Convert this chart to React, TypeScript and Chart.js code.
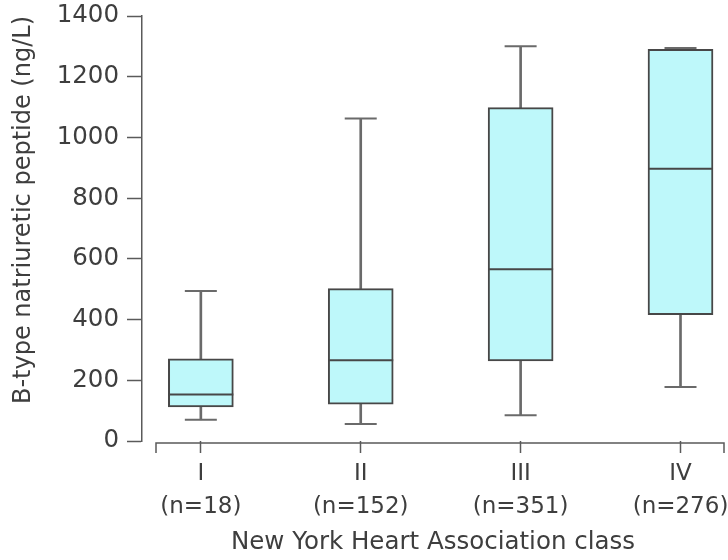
import React, { useEffect, useRef } from "react";
import { Chart, registerables } from "chart.js";

Chart.register(...registerables);

// ---- data ----
const categories = ["I", "II", "III", "IV"];
const groupSizes = ["(n=18)", "(n=152)", "(n=351)", "(n=276)"];
const whiskerLow = [70, 56, 85, 178];
const quartile1 = [112, 121, 264, 416];
const medians = [153, 266, 566, 897];
const quartile3 = [271, 502, 1098, 1290];
const whiskerHigh = [494, 1062, 1300, 1295];
const yTicks = [0, 200, 400, 600, 800, 1000, 1200, 1400];
const yTitle = "B-type natriuretic peptide (ng/L)";
const xTitle = "New York Heart Association class";

const positions = categories.map((_, i) => i + 1);

const FONT = "'DejaVu Sans', Verdana, sans-serif";
const TEXT = "#3e3e3e";
const AXIS = "#5a5a5a";
const BOX_FILL = "#bef8fa";
const BOX_EDGE = "#474747";
const WHISKER = "#6a6a6a";

const xAxisLine = {
  id: "xAxisLine",
  afterDraw(chart: any) {
    const { ctx, chartArea } = chart;
    const y = chartArea.bottom + 2;
    const x0 = chartArea.left + 14;
    const x1 = chartArea.right;
    ctx.save();
    ctx.strokeStyle = AXIS;
    ctx.lineWidth = 1.5;
    ctx.beginPath();
    ctx.moveTo(x0, y + 10);
    ctx.lineTo(x0, y);
    ctx.lineTo(x1, y);
    ctx.lineTo(x1, y + 10);
    ctx.stroke();
    ctx.restore();
  },
};

const zeroPadding = (s: any) => {
  s.paddingLeft = 0;
  s.paddingRight = 0;
  s.paddingTop = 0;
  s.paddingBottom = 0;
  if (s._margins) {
    s._margins.left = 0;
    s._margins.right = 0;
    s._margins.top = 0;
    s._margins.bottom = 0;
  }
};

export default function App() {
  const ref = useRef<HTMLCanvasElement | null>(null);

  useEffect(() => {
    if (!ref.current) return;
    const chart = new Chart(ref.current, {
      type: "bar",
      data: {
        datasets: [
          {
            type: "scatter",
            label: "median",
            data: positions.map((x, i) => ({ x, y: medians[i] })),
            pointStyle: "line",
            pointRadius: 32.5,
            pointHoverRadius: 32.5,
            borderColor: BOX_EDGE,
            pointBorderColor: BOX_EDGE,
            borderWidth: 2,
            pointBorderWidth: 2,
            clip: false,
            order: 0,
          } as any,
          {
            type: "scatter",
            label: "caps",
            data: [
              ...positions.map((x, i) => ({ x, y: whiskerLow[i] })),
              ...positions.map((x, i) => ({ x, y: whiskerHigh[i] })),
            ],
            pointStyle: "line",
            pointRadius: 16,
            pointHoverRadius: 16,
            borderColor: WHISKER,
            pointBorderColor: WHISKER,
            borderWidth: 2,
            pointBorderWidth: 2,
            clip: false,
            order: 1,
          } as any,
          {
            type: "bar",
            label: "box",
            data: positions.map((x, i) => ({ x, y: [quartile1[i], quartile3[i]] })),
            backgroundColor: BOX_FILL,
            borderColor: BOX_EDGE,
            borderWidth: 2,
            borderSkipped: false,
            barThickness: 65,
            grouped: false,
            order: 2,
          } as any,
          {
            type: "bar",
            label: "lower whisker",
            data: positions.map((x, i) => ({ x, y: [whiskerLow[i], quartile1[i]] })),
            backgroundColor: WHISKER,
            borderWidth: 0,
            barThickness: 2,
            grouped: false,
            order: 3,
          } as any,
          {
            type: "bar",
            label: "upper whisker",
            data: positions.map((x, i) => ({ x, y: [quartile3[i], whiskerHigh[i]] })),
            backgroundColor: WHISKER,
            borderWidth: 0,
            barThickness: 2,
            grouped: false,
            order: 3,
          } as any,
        ],
      },
      options: {
        animation: false,
        responsive: false,
        events: [],
        layout: { autoPadding: false, padding: { top: 16, right: 4, left: 0, bottom: 0 } },
        plugins: {
          legend: { display: false },
          tooltip: { enabled: false },
        },
        scales: {
          x: {
            type: "linear",
            offset: false,
            min: 0.632,
            max: 4.272,
            afterBuildTicks: (s: any) => {
              s.ticks = positions.map((v) => ({ value: v }));
            },
            afterFit: (s: any) => {
              s.height = 119;
              zeroPadding(s);
            },
            border: { display: false },
            grid: {
              display: true,
              offset: false,
              drawOnChartArea: false,
              drawTicks: true,
              tickLength: 12,
              tickColor: AXIS,
              tickWidth: 1.5,
            },
            ticks: {
              autoSkip: false,
              maxRotation: 0,
              padding: 4,
              color: TEXT,
              font: { family: FONT, size: 23, lineHeight: 1.456 },
              callback: (v: any) => {
                const i = positions.indexOf(Number(v));
                return i >= 0 ? [categories[i], groupSizes[i]] : "";
              },
            },
            title: {
              display: true,
              text: xTitle,
              color: TEXT,
              font: { family: FONT, size: 24.5 },
              padding: { top: 0, bottom: 3 },
            },
          },
          y: {
            type: "linear",
            min: 0,
            max: 1400,
            afterBuildTicks: (s: any) => {
              s.ticks = yTicks.map((v) => ({ value: v }));
            },
            afterFit: (s: any) => {
              s.width = 142;
              zeroPadding(s);
            },
            border: { display: true, color: AXIS, width: 1.5 },
            grid: {
              display: true,
              drawOnChartArea: false,
              drawTicks: true,
              tickLength: 15,
              tickColor: AXIS,
              tickWidth: 1.5,
            },
            ticks: {
              padding: 8,
              color: TEXT,
              font: { family: FONT, size: 24.5 },
              callback: (v: any) => String(v),
            },
            title: {
              display: true,
              text: yTitle,
              align: "end",
              color: TEXT,
              font: { family: FONT, size: 24 },
              padding: { top: 9, bottom: 0 },
            },
          },
        },
      } as any,
      plugins: [xAxisLine],
    });
    return () => chart.destroy();
  }, []);

  return (
    <div style={{ position: "absolute", left: 0, top: 0, width: 728, height: 560, background: "#fff" }}>
      <canvas ref={ref} width={728} height={560} />
    </div>
  );
}
